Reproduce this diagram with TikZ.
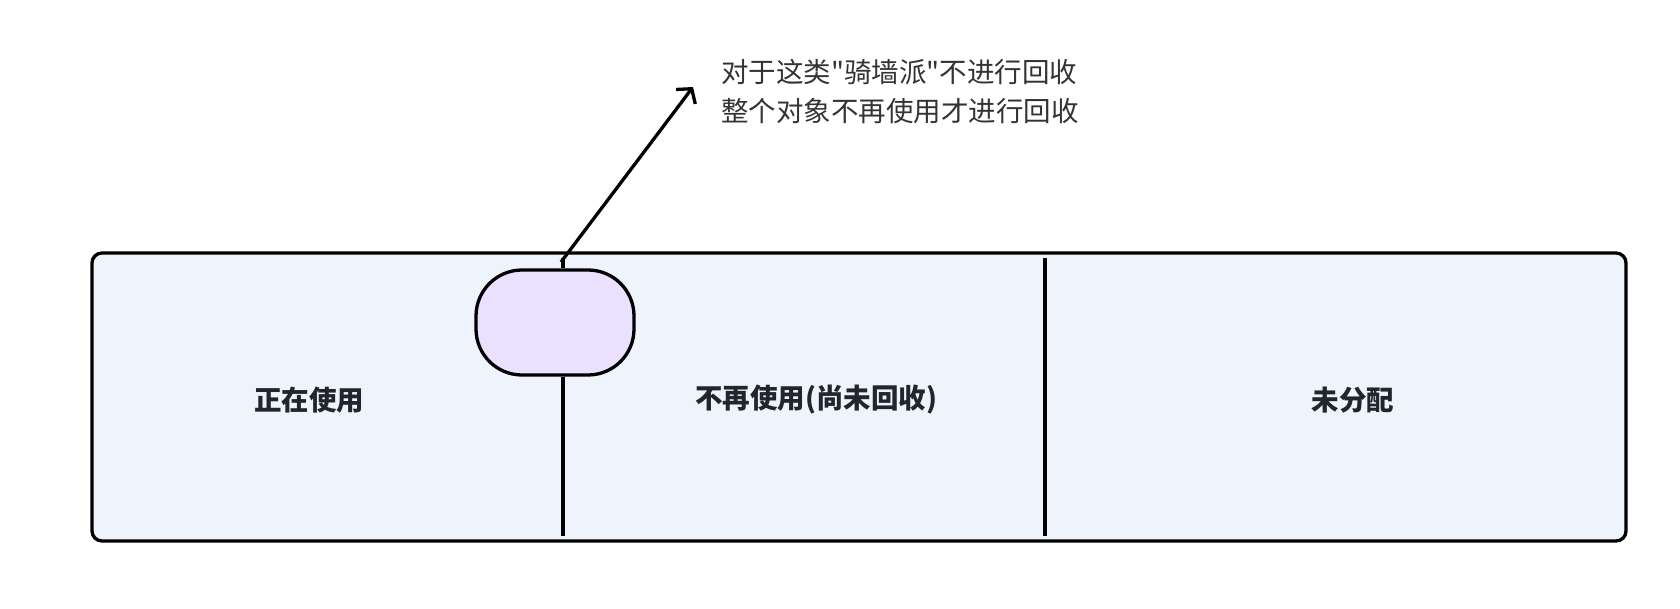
\documentclass[tikz,border=0pt]{standalone}
\usepackage{fontspec}
\setmainfont{Noto Sans CJK SC}
\newfontfamily\notefont{Noto Sans CJK SC}
\usetikzlibrary{arrows.meta}
\definecolor{memfill}{HTML}{EFF3FC}
\definecolor{objfill}{HTML}{E9E1FD}
\definecolor{labtext}{HTML}{22252C}
\definecolor{notetext}{HTML}{333333}
\begin{document}
\begin{tikzpicture}[x=1pt,y=-1pt,
  memstyle/.style={draw=black, line width=3.3pt, fill=memfill, rounded corners=10pt, inner sep=0pt},
  objstyle/.style={draw=black, line width=3.3pt, fill=objfill, rounded corners=46pt, inner sep=0pt},
  divstyle/.style={draw=black, line width=3.3pt},
  arrowstyle/.style={draw=black, line width=3.3pt, -{Straight Barb[length=10pt,width=24pt,line width=3.3pt]}},
  labstyle/.style={font=\fontsize{27.5}{33}\selectfont\bfseries, text=labtext, inner sep=0pt},
  notestyle/.style={font=\notefont\fontsize{27.5}{39}\selectfont, text=notetext, align=left, inner sep=0pt}]
\useasboundingbox (0,0) rectangle (1680,608);
\node[memstyle, minimum width=1534pt, minimum height=288pt] (mem) at (859,397) {};
% dividers
\coordinate (d1t) at (563,258);
\coordinate (d1b) at (563,536);
\coordinate (d2t) at (1045,258);
\coordinate (d2b) at (1045,536);
\node[objstyle, minimum width=158pt, minimum height=105pt] (obj) at (555,322.5) {};
\draw[divstyle] (d1t) -- (obj.north -| d1t);
\draw[divstyle] (obj.south -| d1b) -- (d1b);
\draw[divstyle] (d2t) -- (d2b);
% labels
\node[labstyle] (used) at (309,400) {正在使用};
\node[labstyle] (unused) at (816,400) {不再使用(尚未回收)};
\node[labstyle] (free) at (1353,400) {未分配};
% annotation
\coordinate (a0) at (561,262);
\coordinate (a1) at (693,87);
\draw[arrowstyle] (a0) -- (a1);
\node[notestyle, anchor=west] (note) at (721,91.5) {对于这类"骑墙派"不进行回收\\整个对象不再使用才进行回收};
\end{tikzpicture}
\end{document}
